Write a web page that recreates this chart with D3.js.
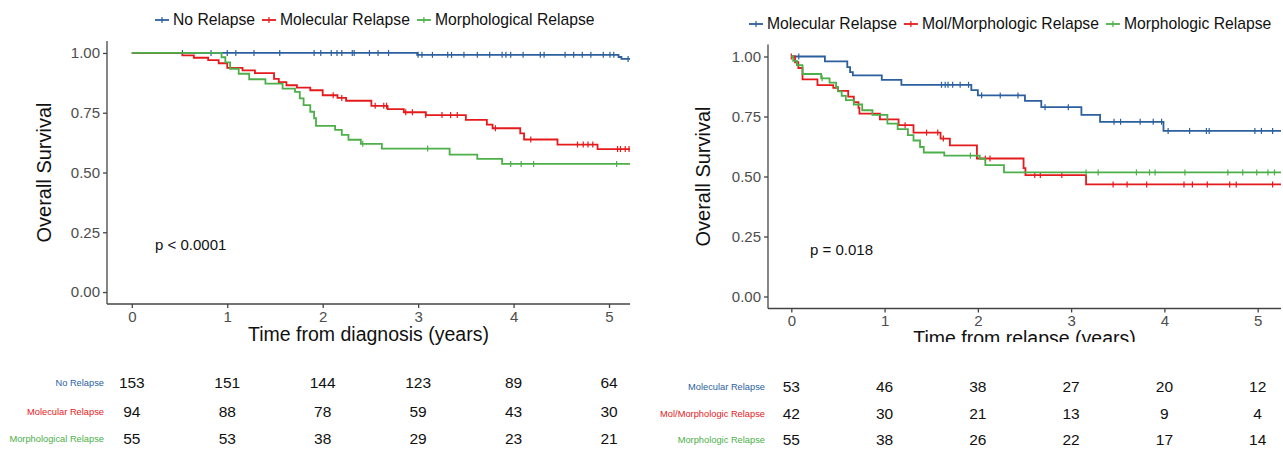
<!DOCTYPE html>
<html>
<head>
<meta charset="utf-8">
<script src="https://cdn.jsdelivr.net/npm/d3@7"></script>
<style>
  body { margin: 0; background: #fff; }
  svg { display: block; font-family: "Liberation Sans", Arial, sans-serif; }
  .axis path, .axis line { stroke: #444; stroke-width: 1.3; }
  .axis text { fill: #4d4d4d; font-size: 15px; }
</style>
</head>
<body>
<svg id="chart" width="1283" height="449"></svg>
<script>
(function(){
  'use strict';

  // shared axes
  var timeTicks = [0, 1, 2, 3, 4, 5];
  var survTicks = [0, 0.25, 0.5, 0.75, 1];
  var survTickLabels = ['0.00', '0.25', '0.50', '0.75', '1.00'];
  var colors = ['#2c5f9e', '#e41a1c', '#4daf4a'];

  // left panel: time from diagnosis
  var diagGroups = ['No Relapse', 'Molecular Relapse', 'Morphological Relapse'];
  var diagLastTime = [5.22, 5.22, 5.22];

  var diagNoRelapseSteps = [[2.99, 0.992], [5.10, 0.983], [5.13, 0.975]];
  var diagNoRelapseCensor = [0.53, 0.83, 1.0, 1.09, 1.28, 1.55, 1.91, 1.98, 2.09, 2.15, 2.2, 2.31, 2.33, 2.49,
    2.58, 2.69, 3.0, 3.04, 3.15, 3.31, 3.35, 3.48, 3.62, 3.75, 3.88, 3.92, 3.97, 4.1, 4.28, 4.32,
    4.54, 4.63, 4.72, 4.81, 4.94, 5.01, 5.05, 5.2];

  var diagMolecularSteps = [[0.53, 0.99], [0.65, 0.98], [0.8, 0.97], [0.91, 0.957], [1.0, 0.938],
    [1.16, 0.927], [1.29, 0.916], [1.49, 0.892], [1.54, 0.878], [1.62, 0.865], [1.73, 0.855],
    [1.87, 0.844], [2.0, 0.823], [2.155, 0.812], [2.245, 0.80], [2.51, 0.779], [2.68, 0.765],
    [2.85, 0.752], [3.08, 0.74], [3.5, 0.72], [3.72, 0.70], [3.78, 0.685], [4.07, 0.664],
    [4.11, 0.638], [4.46, 0.617], [4.88, 0.598]];
  var diagMolecularCensor = [2.11, 2.2, 2.55, 2.64, 2.67, 2.87, 2.94, 3.08, 3.25, 3.34, 3.41, 3.81,
    4.18, 4.67, 4.73, 4.78, 4.83, 5.09, 5.12, 5.17, 5.21];

  var diagMorphologicalSteps = [[0.94, 0.982], [0.98, 0.961], [1.03, 0.934], [1.12, 0.913], [1.23, 0.89],
    [1.4, 0.872], [1.58, 0.851], [1.71, 0.837], [1.76, 0.81], [1.80, 0.782], [1.87, 0.754],
    [1.91, 0.727], [1.93, 0.695], [2.13, 0.678], [2.2, 0.657], [2.27, 0.637], [2.4, 0.62],
    [2.62, 0.60], [3.33, 0.575], [3.62, 0.557], [3.88, 0.536]];
  var diagMorphologicalCensor = [2.42, 3.1, 3.97, 4.08, 4.21, 5.08];

  var diagRiskNoRelapse = [153, 151, 144, 123, 89, 64];
  var diagRiskMolecular = [94, 88, 78, 59, 43, 30];
  var diagRiskMorphological = [55, 53, 38, 29, 23, 21];

  // right panel: time from relapse
  var relGroups = ['Molecular Relapse', 'Mol/Morphologic Relapse', 'Morphologic Relapse'];
  var relLastTime = [5.25, 5.25, 5.25];

  var relMolecularSteps = [[0.36, 0.98], [0.60, 0.956], [0.63, 0.935], [0.66, 0.921], [0.97, 0.903],
    [1.18, 0.882], [1.93, 0.86], [2.0, 0.838], [2.505, 0.815], [2.68, 0.789], [3.11, 0.757],
    [3.31, 0.728], [3.99, 0.69]];
  var relMolecularCensor = [0.08, 1.61, 1.65, 1.68, 1.73, 1.81, 1.9, 2.04, 2.24, 2.43, 2.72, 2.97,
    3.46, 3.53, 3.74, 3.88, 3.97, 4.04, 4.27, 4.45, 4.48, 4.97, 5.04, 5.16];

  var relMolMorphSteps = [[0.04, 0.976], [0.075, 0.952], [0.12, 0.905], [0.28, 0.881], [0.45, 0.869],
    [0.5, 0.857], [0.61, 0.833], [0.67, 0.81], [0.72, 0.786], [0.73, 0.762], [0.95, 0.738],
    [1.15, 0.714], [1.31, 0.683], [1.6, 0.658], [1.70, 0.63], [1.99, 0.575], [2.49, 0.535],
    [2.51, 0.506], [3.16, 0.467]];
  var relMolMorphCensor = [0.0, 1.22, 1.45, 1.57, 1.63, 2.08, 2.13, 2.61, 2.67, 2.9, 3.45, 3.6, 3.81,
    4.21, 4.3, 4.46, 4.7, 4.77, 5.16];

  var relMorphologicSteps = [[0.02, 0.982], [0.06, 0.964], [0.12, 0.927], [0.32, 0.909], [0.41, 0.891],
    [0.48, 0.873], [0.50, 0.855], [0.54, 0.836], [0.585, 0.818], [0.67, 0.80], [0.76, 0.776],
    [0.87, 0.757], [1.03, 0.72], [1.14, 0.697], [1.25, 0.672], [1.31, 0.65], [1.38, 0.623],
    [1.42, 0.60], [1.64, 0.587], [2.02, 0.574], [2.08, 0.547], [2.28, 0.517]];
  var relMorphologicCensor = [0.33, 1.92, 3.16, 3.29, 3.7, 3.84, 3.9, 4.22, 4.68, 4.84, 4.99, 5.11, 5.18];

  var relRiskMolecular = [53, 46, 38, 27, 20, 12];
  var relRiskMolMorph = [42, 30, 21, 13, 9, 4];
  var relRiskMorphologic = [55, 38, 26, 22, 17, 14];

  var svg = d3.select('#chart');

  drawPanel({
    xDomain: [-0.26, 5.22], xRange: [107, 630],
    yRange: [304, 41],
    groups: diagGroups,
    steps: [diagNoRelapseSteps, diagMolecularSteps, diagMorphologicalSteps],
    censor: [diagNoRelapseCensor, diagMolecularCensor, diagMorphologicalCensor],
    lastTime: diagLastTime,
    risk: [diagRiskNoRelapse, diagRiskMolecular, diagRiskMorphological],
    riskY: [383, 412, 439],
    legendX: 155, legendY: 20,
    yTitleX: 51,
    xTitle: 'Time from diagnosis (years)', xTitleY: 341,
    pText: 'p < 0.0001', pX: 155, pY: 250
  });

  drawPanel({
    xDomain: [-0.25, 5.25], xRange: [768, 1281],
    yRange: [308.5, 44.5],
    groups: relGroups,
    steps: [relMolecularSteps, relMolMorphSteps, relMorphologicSteps],
    censor: [relMolecularCensor, relMolMorphCensor, relMorphologicCensor],
    lastTime: relLastTime,
    risk: [relRiskMolecular, relRiskMolMorph, relRiskMorphologic],
    riskY: [387, 414, 440],
    legendX: 749, legendY: 24,
    yTitleX: 710,
    xTitle: 'Time from relapse (years)', xTitleY: 345, clipBottom: 342,
    pText: 'p = 0.018', pX: 810, pY: 255
  });

  function survAt(steps, t) {
    var s = 1;
    steps.forEach(function(d) { if (d[0] <= t) s = d[1]; });
    return s;
  }

  function drawPanel(o) {
    var x = d3.scaleLinear().domain(o.xDomain).range(o.xRange);
    var y = d3.scaleLinear().domain([-0.05, 1.05]).range(o.yRange);
    var left = o.xRange[0], bottom = o.yRange[0];

    svg.append('g')
      .attr('class', 'axis')
      .attr('transform', 'translate(0,' + bottom + ')')
      .call(d3.axisBottom(x).tickValues(timeTicks).tickSize(4).tickPadding(3).tickSizeOuter(0)
        .tickFormat(d3.format('d')))
      .call(function(g) { g.select('.domain').attr('d', 'M' + o.xRange[0] + ',0H' + o.xRange[1]); });

    svg.append('g')
      .attr('class', 'axis')
      .attr('transform', 'translate(' + left + ',0)')
      .call(d3.axisLeft(y).tickValues(survTicks).tickSize(4).tickPadding(3).tickSizeOuter(0)
        .tickFormat(function(d, i) { return survTickLabels[i]; }))
      .call(function(g) { g.select('.domain').attr('d', 'M0,' + o.yRange[0] + 'V' + o.yRange[1]); });

    svg.selectAll('.axis text').attr('font-family', null).attr('font-size', null);

    var line = d3.line()
      .x(function(d) { return x(d[0]); })
      .y(function(d) { return y(d[1]); })
      .curve(d3.curveStepAfter);

    o.groups.forEach(function(name, i) {
      var pts = [[0, 1]].concat(o.steps[i]);
      pts.push([o.lastTime[i], pts[pts.length - 1][1]]);

      svg.append('path')
        .datum(pts)
        .attr('d', line)
        .attr('fill', 'none')
        .attr('stroke', colors[i])
        .attr('stroke-width', 1.8);

      svg.selectAll('.cens' + i + left)
        .data(o.censor[i])
        .enter()
        .append('line')
        .attr('x1', function(d) { return x(d); })
        .attr('x2', function(d) { return x(d); })
        .attr('y1', function(d) { return y(survAt(o.steps[i], d)) - 3; })
        .attr('y2', function(d) { return y(survAt(o.steps[i], d)) + 3; })
        .attr('stroke', colors[i])
        .attr('stroke-width', 1.2);
    });

    // legend
    var lx = o.legendX;
    o.groups.forEach(function(name, i) {
      var g = svg.append('g');
      g.append('line')
        .attr('x1', lx).attr('x2', lx + 14)
        .attr('y1', o.legendY).attr('y2', o.legendY)
        .attr('stroke', colors[i]).attr('stroke-width', 1.8);
      g.append('line')
        .attr('x1', lx + 7).attr('x2', lx + 7)
        .attr('y1', o.legendY - 3).attr('y2', o.legendY + 3)
        .attr('stroke', colors[i]).attr('stroke-width', 1.2);
      var t = g.append('text')
        .attr('x', lx + 18)
        .attr('y', o.legendY)
        .attr('dy', '0.35em')
        .style('font-size', '15.7px')
        .attr('fill', '#111')
        .text(name);
      lx = lx + 18 + t.node().getComputedTextLength() + 7;
    });

    // axis titles
    svg.append('text')
      .attr('transform', 'translate(' + o.yTitleX + ',' + ((o.yRange[0] + o.yRange[1]) / 2) + ') rotate(-90)')
      .attr('text-anchor', 'middle')
      .style('font-size', '20px')
      .attr('fill', '#111')
      .text('Overall Survival');

    var xt = svg.append('text')
      .attr('x', (o.xRange[0] + o.xRange[1]) / 2)
      .attr('y', o.xTitleY)
      .attr('text-anchor', 'middle')
      .style('font-size', '19.5px')
      .attr('fill', '#111')
      .text(o.xTitle);

    if (o.clipBottom) {
      var id = 'clip' + left;
      svg.append('clipPath').attr('id', id)
        .append('rect')
        .attr('x', o.xRange[0] - 100).attr('y', 0)
        .attr('width', 800).attr('height', o.clipBottom);
      xt.attr('clip-path', 'url(#' + id + ')');
    }

    // p value
    svg.append('text')
      .attr('x', o.pX)
      .attr('y', o.pY)
      .style('font-size', '15px')
      .attr('fill', '#111')
      .text(o.pText);

    // numbers at risk
    o.groups.forEach(function(name, i) {
      svg.append('text')
        .attr('x', left - 3)
        .attr('y', o.riskY[i])
        .attr('dy', '0.35em')
        .attr('text-anchor', 'end')
        .style('font-size', '9.3px')
        .attr('fill', colors[i])
        .text(name);

      svg.selectAll('.risk' + i + left)
        .data(o.risk[i])
        .enter()
        .append('text')
        .attr('x', function(d, j) { return x(timeTicks[j]); })
        .attr('y', o.riskY[i])
        .attr('dy', '0.35em')
        .attr('text-anchor', 'middle')
        .style('font-size', '15.5px')
        .attr('fill', '#111')
        .text(function(d) { return d; });
    });
  }

}());
</script>
</body>
</html>
